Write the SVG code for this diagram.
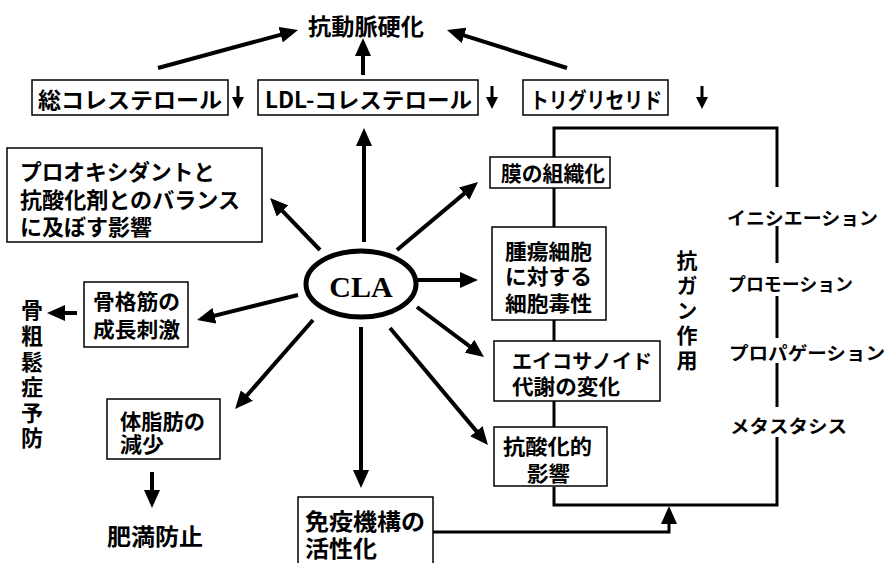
<svg xmlns="http://www.w3.org/2000/svg" width="888" height="563" viewBox="0 0 888 563">
<style>
.t{font-family:"Noto Sans CJK JP","Noto Sans CJK SC",sans-serif;font-weight:700;fill:#000}
.v{font-family:"Noto Sans CJK JP","Noto Sans CJK SC",sans-serif;font-weight:700;fill:#000;writing-mode:vertical-rl;text-orientation:upright}
.box{fill:#fff;stroke:#000;stroke-width:1.5}
.ln{stroke:#000;stroke-width:4;fill:none}
.ar{marker-end:url(#ah)}
.th{stroke:#000;stroke-width:3;fill:none}
.sm{stroke:#000;stroke-width:3;fill:none;marker-end:url(#sh)}
</style>
<defs>
<marker id="ah" markerUnits="userSpaceOnUse" markerWidth="18" markerHeight="16" viewBox="0 0 18 16" refX="12" refY="8" orient="auto"><path d="M0,0 L18,8 L0,16 z" fill="#000"/></marker>
<marker id="sh" markerUnits="userSpaceOnUse" markerWidth="12" markerHeight="12" viewBox="0 0 12 12" refX="7" refY="6" orient="auto"><path d="M0,0 L12,6 L0,12 z" fill="#000"/></marker>
</defs>
<rect width="888" height="563" fill="#fff"/>

<g id="connectors">
<line class="ln ar" x1="158" y1="68" x2="292.2" y2="31.6"/>
<line class="ln ar" x1="363" y1="75" x2="363" y2="44"/>
<line class="ln ar" x1="567" y1="68" x2="452.7" y2="31.8"/>
<line class="ln ar" x1="364" y1="242" x2="364" y2="134"/>
<line class="ln ar" x1="320" y1="250" x2="274.2" y2="202.3"/>
<line class="ln ar" x1="397" y1="250" x2="473.4" y2="185.9"/>
<line class="ln ar" x1="418" y1="280" x2="472" y2="280"/>
<line class="ln ar" x1="417" y1="307" x2="479.2" y2="353.4"/>
<line class="ln ar" x1="390" y1="328" x2="484.1" y2="440.4"/>
<line class="ln ar" x1="361" y1="327" x2="361" y2="482"/>
<line class="ln ar" x1="313" y1="320" x2="239" y2="404.5"/>
<line class="ln ar" x1="298" y1="295" x2="202.8" y2="318.6"/>
<line class="ln ar" x1="77" y1="313" x2="53" y2="313"/>
<line class="ln ar" x1="152" y1="472" x2="152" y2="502"/>
<polyline class="th ar" points="433,532 669,532 669,512"/>
<line class="sm" x1="238" y1="86" x2="238" y2="104"/>
<line class="sm" x1="492" y1="86" x2="492" y2="104"/>
<line class="sm" x1="702" y1="86" x2="702" y2="104"/>
<polyline class="th" points="554,157 554,128 777,128 777,187"/>
<line class="th" x1="554" y1="188" x2="554" y2="227"/>
<line class="th" x1="554" y1="320" x2="554" y2="341"/>
<line class="th" x1="554" y1="401" x2="554" y2="427"/>
<polyline class="th" points="554,487 554,505 777,505 777,437"/>
<line class="th" x1="777" y1="226" x2="777" y2="263"/>
<line class="th" x1="777" y1="296" x2="777" y2="338"/>
<line class="th" x1="777" y1="363" x2="777" y2="407"/>
</g>

<g id="title"><text class="t" x="366" y="25" font-size="23" text-anchor="middle" dominant-baseline="central" textLength="116" lengthAdjust="spacingAndGlyphs">抗動脈硬化</text></g>

<g id="n-total-chol"><rect class="box" x="32" y="80" width="196" height="35"/>
<text class="t" x="38" y="98" font-size="22" dominant-baseline="central" textLength="184" lengthAdjust="spacingAndGlyphs">総コレステロール</text></g>

<g id="n-ldl"><rect class="box" x="258" y="80" width="220" height="35"/>
<text class="t" x="265" y="98" font-size="22" dominant-baseline="central" textLength="207" lengthAdjust="spacingAndGlyphs">LDL-コレステロール</text></g>

<g id="n-tg"><rect class="box" x="523" y="80" width="145" height="35"/>
<text class="t" x="530" y="98" font-size="22" dominant-baseline="central" textLength="132" lengthAdjust="spacingAndGlyphs">トリグリセリド</text></g>

<g id="n-prooxidant"><rect class="box" x="7" y="148" width="255" height="94"/>
<text class="t" font-size="22" dominant-baseline="central"><tspan x="20" y="170" textLength="195" lengthAdjust="spacingAndGlyphs">プロオキシダントと</tspan><tspan x="20" y="198" textLength="220" lengthAdjust="spacingAndGlyphs">抗酸化剤とのバランス</tspan><tspan x="20" y="225" textLength="132" lengthAdjust="spacingAndGlyphs">に及ぼす影響</tspan></text></g>

<g id="n-cla"><ellipse cx="361" cy="284" rx="55" ry="33" fill="#fff" stroke="#000" stroke-width="5"/>
<text x="361" y="297" font-family="'Liberation Serif',serif" font-weight="700" font-size="30" text-anchor="middle">CLA</text></g>

<g id="n-muscle"><rect class="box" x="84" y="282" width="104" height="65"/>
<text class="t" font-size="21" dominant-baseline="central"><tspan x="93" y="300" textLength="87" lengthAdjust="spacingAndGlyphs">骨格筋の</tspan><tspan x="93" y="328" textLength="87" lengthAdjust="spacingAndGlyphs">成長刺激</tspan></text></g>

<g id="n-osteo"><text class="v" x="32" y="299" font-size="22" letter-spacing="3.6">骨粗鬆症予防</text></g>

<g id="n-bodyfat"><rect class="box" x="107" y="399" width="113" height="60"/>
<text class="t" font-size="21" dominant-baseline="central"><tspan x="120" y="420" textLength="85" lengthAdjust="spacingAndGlyphs">体脂肪の</tspan><tspan x="120" y="443" textLength="44" lengthAdjust="spacingAndGlyphs">減少</tspan></text></g>

<g id="n-obesity"><text class="t" x="107" y="535" font-size="23" dominant-baseline="central" textLength="96" lengthAdjust="spacingAndGlyphs">肥満防止</text></g>

<g id="n-immune"><rect class="box" x="298" y="497" width="135" height="75"/>
<text class="t" font-size="23" dominant-baseline="central"><tspan x="305" y="520" textLength="120" lengthAdjust="spacingAndGlyphs">免疫機構の</tspan><tspan x="305" y="547" textLength="72" lengthAdjust="spacingAndGlyphs">活性化</tspan></text></g>

<g id="n-membrane"><rect class="box" x="490" y="157" width="120" height="31"/>
<text class="t" x="501" y="172" font-size="21" dominant-baseline="central" textLength="104" lengthAdjust="spacingAndGlyphs">膜の組織化</text></g>

<g id="n-tumor"><rect class="box" x="492" y="227" width="114" height="93"/>
<text class="t" font-size="21" dominant-baseline="central"><tspan x="505" y="250" textLength="87" lengthAdjust="spacingAndGlyphs">腫瘍細胞</tspan><tspan x="505" y="275" textLength="87" lengthAdjust="spacingAndGlyphs">に対する</tspan><tspan x="505" y="302" textLength="87" lengthAdjust="spacingAndGlyphs">細胞毒性</tspan></text></g>

<g id="n-eicosanoid"><rect class="box" x="494" y="341" width="166" height="60"/>
<text class="t" font-size="20" dominant-baseline="central"><tspan x="512" y="360" textLength="140" lengthAdjust="spacingAndGlyphs">エイコサノイド</tspan><tspan x="512" y="385" font-size="21" textLength="108" lengthAdjust="spacingAndGlyphs">代謝の変化</tspan></text></g>

<g id="n-antiox"><rect class="box" x="494" y="427" width="113" height="59"/>
<text class="t" font-size="21" dominant-baseline="central"><tspan x="503" y="445" textLength="89" lengthAdjust="spacingAndGlyphs">抗酸化的</tspan><tspan x="527" y="472" textLength="43" lengthAdjust="spacingAndGlyphs">影響</tspan></text></g>

<g id="n-anticancer"><text class="v" x="687" y="250" font-size="21" letter-spacing="4">抗ガン作用</text></g>

<g id="n-initiation"><text class="t" x="727" y="217" font-size="18" dominant-baseline="central" textLength="151" lengthAdjust="spacingAndGlyphs">イニシエーション</text></g>
<g id="n-promotion"><text class="t" x="728" y="283" font-size="18" dominant-baseline="central" textLength="125" lengthAdjust="spacingAndGlyphs">プロモーション</text></g>
<g id="n-propagation"><text class="t" x="729" y="352" font-size="18" dominant-baseline="central" textLength="156" lengthAdjust="spacingAndGlyphs">プロパゲーション</text></g>
<g id="n-metastasis"><text class="t" x="730" y="425" font-size="18" dominant-baseline="central" textLength="117" lengthAdjust="spacingAndGlyphs">メタスタシス</text></g>
</svg>
